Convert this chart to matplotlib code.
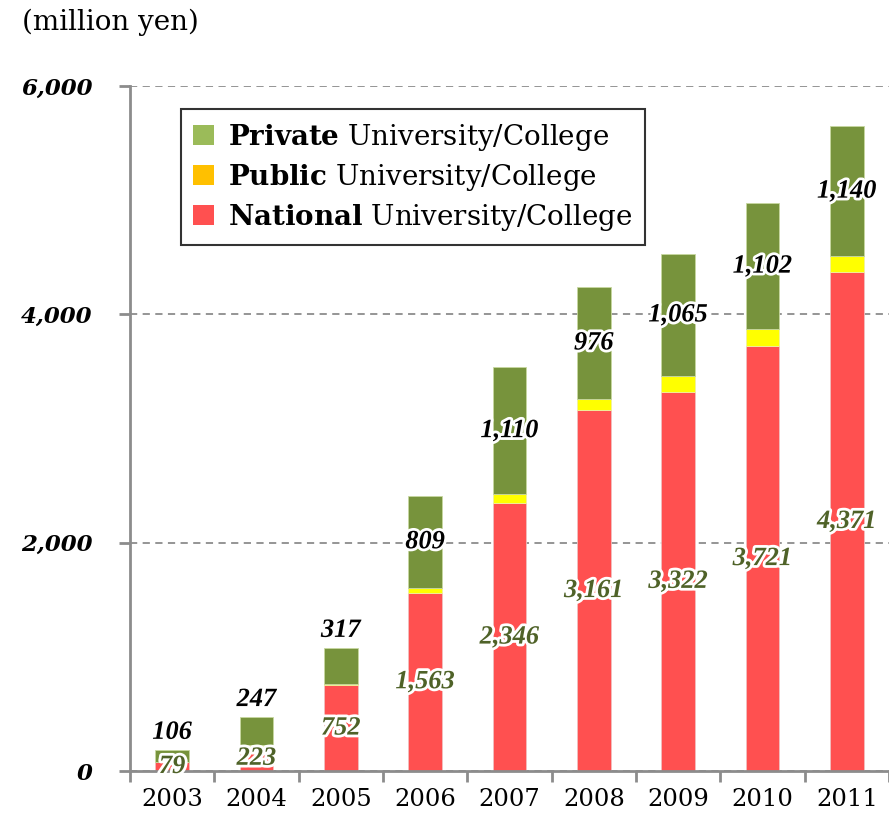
import numpy as np
import matplotlib.pyplot as plt
import matplotlib.patheffects as pe
from matplotlib.patches import Patch

plt.rcParams['font.family'] = ['DejaVu Serif']
plt.rcParams['mathtext.fontset'] = 'custom'
plt.rcParams['mathtext.rm'] = 'DejaVu Serif'
plt.rcParams['mathtext.bf'] = 'DejaVu Serif:bold'

years = ['2003', '2004', '2005', '2006', '2007', '2008', '2009', '2010', '2011']
national = [79, 223, 752, 1563, 2346, 3161, 3322, 3721, 4371]
public = [3, 5, 12, 40, 80, 100, 140, 150, 138]
private = [106, 247, 317, 809, 1110, 976, 1065, 1102, 1140]

col_nat = '#ff5050'
col_pub = '#ffff00'
col_pri = '#77933c'
grey = '#8c8c8c'

fig = plt.figure(figsize=(8.89, 8.25), dpi=100)
ax = fig.add_axes([130 / 889, 1 - 771 / 825, 1 - 130 / 889, (771 - 86) / 825])

x = np.arange(len(years))
nat = np.array(national)
pub = np.array(public)
pri = np.array(private)
w = 0.40
ax.bar(x, nat, w, color=col_nat, edgecolor='#f0c0c0', linewidth=0.6, zorder=2)
ax.bar(x, pub, w, bottom=nat, color=col_pub, edgecolor='#f0f0a0', linewidth=0.6, zorder=2)
ax.bar(x, pri, w, bottom=nat + pub, color=col_pri, edgecolor='#c8d8a0', linewidth=0.6, zorder=2)

ax.set_xlim(-0.5, len(years) - 0.5)
ax.set_ylim(0, 6000)
ax.set_yticks([0, 2000, 4000, 6000])
ax.set_yticklabels(['0', '2,000', '4,000', '6,000'], fontsize=16.5,
                   fontweight='bold', fontstyle='italic')
ax.yaxis.grid(True, linestyle=(0, (4, 3)), color=grey, linewidth=1.3, zorder=0)
ax.set_axisbelow(True)

ax.set_xticks(x)
ax.set_xticklabels(years, fontsize=17.5)
ax.set_xticks(np.arange(-0.5, len(years), 1.0), minor=True)
ax.tick_params(axis='x', which='major', length=0, pad=12)
ax.tick_params(axis='x', which='minor', length=8, width=2, color=grey, direction='out')
ax.tick_params(axis='y', length=8, width=2, color=grey, pad=19)

for s in ['top', 'right']:
    ax.spines[s].set_visible(False)
for s in ['left', 'bottom']:
    ax.spines[s].set_color(grey)
    ax.spines[s].set_linewidth(2)

lab_font = dict(family='Liberation Serif', fontsize=19, fontweight='bold', fontstyle='italic')
stroke = [pe.withStroke(linewidth=4, foreground='white')]
for i in range(len(years)):
    ax.text(x[i], nat[i] / 2, f'{national[i]:,}', ha='center', va='center',
            color='#4f6228', path_effects=stroke, zorder=4, **lab_font)
    top = nat[i] + pub[i]
    if pri[i] < 500:
        ax.text(x[i], top + pri[i] + 50, f'{private[i]:,}', ha='center', va='bottom',
                color='black', path_effects=stroke, zorder=4, **lab_font)
    else:
        ax.text(x[i], top + pri[i] / 2, f'{private[i]:,}', ha='center', va='center',
                color='black', path_effects=stroke, zorder=4, **lab_font)

handles = [Patch(facecolor='#9bbb59'), Patch(facecolor='#ffc000'), Patch(facecolor=col_nat)]
labels = [r'$\mathbf{Private}$ University/College',
          r'$\mathbf{Public}$ University/College',
          r'$\mathbf{National}$ University/College']
leg = ax.legend(handles, labels, loc='upper left', bbox_to_anchor=(0.067, 0.966),
                fontsize=20, frameon=True, fancybox=False, edgecolor='black',
                handlelength=0.75, handleheight=0.75, handletextpad=0.5,
                labelspacing=0.32, borderpad=0.45, borderaxespad=0)
leg.get_frame().set_linewidth(1.5)

fig.text(22 / 889, 1 - 22 / 825, '(million yen)', fontsize=20, va='center', ha='left')

fig.savefig('out.png', dpi=100)
